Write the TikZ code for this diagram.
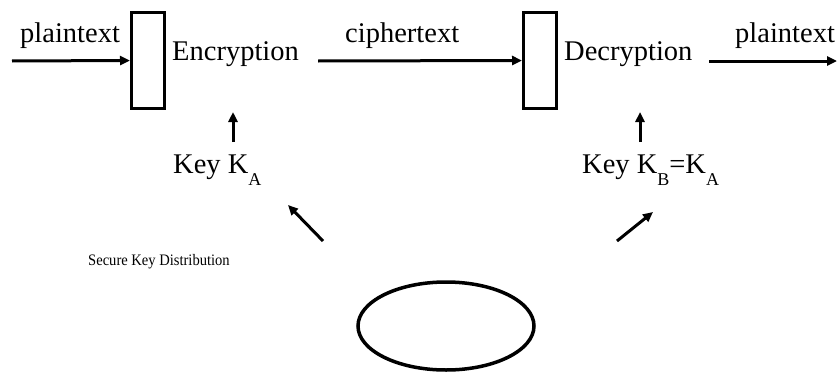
\documentclass[tikz,border=0pt]{standalone}
\usepackage{fontspec}
\setmainfont{Liberation Serif}
\usetikzlibrary{arrows.meta,shapes.geometric}
\begin{document}
\begin{tikzpicture}[x=1pt,y=-1pt,
  conn/.style={line width=3pt,-{Triangle[length=10pt,width=9pt]}},
  boxnode/.style={draw,line width=3pt,minimum width=33pt,minimum height=96pt,inner sep=0pt},
  lbl/.style={font=\fontsize{28.5}{30}\selectfont,inner sep=0pt,anchor=base west},
  sub/.style={}
]
\useasboundingbox (0,0) rectangle (837,372);
% boxes
\node[boxnode] (encbox) at (148,60.5) {};
\node[boxnode] (decbox) at (540,60.5) {};
% labels
\node[lbl] (pt1) at (20,42) {plaintext};
\node[lbl] (enc) at (172,60) {Encryption};
\node[lbl] (ct) at (345,42) {ciphertext};
\node[lbl] (dec) at (564,60) {Decryption};
\node[lbl] (pt2) at (735,42) {plaintext};
\node[lbl] (ka) at (173,173) {Key K\raisebox{-12pt}{\fontsize{18}{20}\selectfont A}};
\node[lbl] (kb) at (582,173) {Key K\raisebox{-12pt}{\fontsize{18}{20}\selectfont B}=K\raisebox{-12pt}{\fontsize{18}{20}\selectfont A}};
\node[anchor=west,inner sep=0pt,font=\fontsize{16}{18}\selectfont] (skd) at (88,262) {\scalebox{0.91}[1]{Secure Key Distribution}};
% ellipse
\node[draw,ellipse,line width=3.5pt,minimum width=176pt,minimum height=88pt,inner sep=0pt] (ell) at (446,326) {};
% connector ends
\coordinate (in1) at (12,61);
\coordinate (ctstart) at (318,61);
\coordinate (dstart) at (709,61);
\coordinate (out1) at (837,61);
\coordinate (kaT) at (233,142);
\coordinate (kaH) at (233,112);
\coordinate (kbT) at (640,142);
\coordinate (kbH) at (640,112);
\coordinate (lT) at (323,241);
\coordinate (lH) at (288,205);
\coordinate (rT) at (617,241);
\coordinate (rH) at (653,212);
% connectors
\draw[conn] (in1) -- (encbox.west);
\draw[conn] (ctstart) -- (decbox.west);
\draw[conn] (dstart) -- (out1);
\draw[conn] (kaT) -- (kaH);
\draw[conn] (kbT) -- (kbH);
\draw[conn] (lT) -- (lH);
\draw[conn] (rT) -- (rH);
\end{tikzpicture}
\end{document}
